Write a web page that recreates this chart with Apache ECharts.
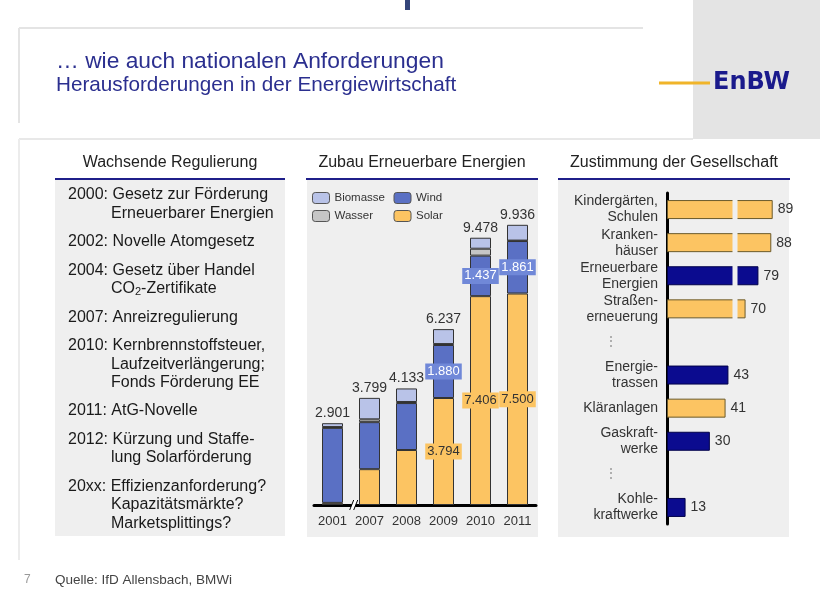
<!DOCTYPE html>
<html><head><meta charset="utf-8">
<script src="https://cdn.jsdelivr.net/npm/echarts@6/dist/echarts.min.js"></script>
<style>html,body{margin:0;padding:0;background:#fff}#c{width:820px;height:596px}</style>
</head><body><div id="c"></div>
<script>
// ---- Zubau Erneuerbare Energien (MW) ----
const years    = ['2001', '2007', '2008', '2009', '2010', '2011'];
const solar    = [75, 1271, 1950, 3794, 7406, 7500];
const wind     = [2659, 1667, 1665, 1880, 1437, 1861];
const wasser   = [30, 100, 38, 33, 245, 15];
const biomasse = [137, 761, 480, 530, 390, 560];
const totals   = [2901, 3799, 4133, 6237, 9478, 9936];
const labelledYears = ['2009', '2010', '2011'];

// ---- Zustimmung der Gesellschaft (%) ----
const approvalCats = ['Kindergärten,\nSchulen', 'Kranken-\nhäuser', 'Erneuerbare\nEnergien', 'Straßen-\nerneuerung', '⋮',
                      'Energie-\ntrassen', 'Kläranlagen', 'Gaskraft-\nwerke', '⋮', 'Kohle-\nkraftwerke'];
const approval     = [89, 88, 79, 70, null, 43, 41, 30, null, 13];
const energyItem   = [false, false, true, false, null, true, false, true, null, true];

// ---- Wachsende Regulierung ----
const regulation = [
  ['2000: Gesetz zur Förderung', 'Erneuerbarer Energien'],
  ['2002: Novelle Atomgesetz'],
  ['2004: Gesetz über Handel', 'CO{s|2}-Zertifikate'],
  ['2007: Anreizregulierung'],
  ['2010: Kernbrennstoffsteuer,', 'Laufzeitverlängerung;', 'Fonds Förderung EE'],
  ['2011: AtG-Novelle'],
  ['2012: Kürzung und Staffe-', 'lung Solarförderung'],
  ['20xx: Effizienzanforderung?', 'Kapazitätsmärkte?', 'Marketsplittings?']
];

const FONT = '"Liberation Sans", Arial, sans-serif';
const NAVY = '#2b2f8f';
const C = { bio: '#b9c3e8', wind: '#5a70c4', wasser: '#c6c6c6', solar: '#fcc462', navyBar: '#0b0b8f', panel: '#efefef' };

function fmt(v) { return String(v).replace(/\B(?=(\d{3})+(?!\d))/g, '.'); }

function txt(x, y, text, size, fill, extra) {
  return {
    type: 'text', x: x, y: y, z: 5, silent: true,
    style: Object.assign({ text: text, fill: fill, font: size + 'px ' + FONT, align: 'left', verticalAlign: 'middle' }, (extra && extra.style) || {})
  };
}
function line(x1, y1, x2, y2, stroke, w) {
  return { type: 'line', z: 1, silent: true, shape: { x1, y1, x2, y2 }, style: { stroke, lineWidth: w } };
}
function rect(x, y, w, h, fill) {
  return { type: 'rect', z: -10, silent: true, shape: { x, y, width: w, height: h }, style: { fill } };
}

const statics = [
  rect(693, 0, 127, 139, '#e4e4e4'),
  rect(405, 0, 5, 10, '#34457a'),
  line(19, 28, 643, 28, '#e4e4e4', 2),
  line(19, 28, 19, 123, '#e4e4e4', 2),
  line(19, 139, 693, 139, '#e8e8e8', 2),
  line(19, 139, 19, 560, '#ececec', 2),
  txt(56, 62, '… wie auch nationalen Anforderungen', 22.8, NAVY),
  txt(56, 85, 'Herausforderungen in der Energiewirtschaft', 20.7, NAVY),
  line(659, 83, 710, 83, '#f0b429', 3),
  txt(713, 83, 'EnBW', 24, '#1a1a8c', { style: { font: 'bold 24px "DejaVu Sans", sans-serif' } }),
  rect(55, 180, 230, 356, C.panel),
  rect(307, 180, 231, 357, C.panel),
  rect(558, 180, 231, 357, C.panel),
  line(55, 179, 285, 179, '#1f1f8a', 2),
  line(306, 179, 538, 179, '#1f1f8a', 2),
  line(558, 179, 790, 179, '#1f1f8a', 2),
  txt(170, 163, 'Wachsende Regulierung', 16, '#222', { style: { align: 'center' } }),
  txt(422, 163, 'Zubau Erneuerbare Energien', 16, '#222', { style: { align: 'center' } }),
  txt(674, 163, 'Zustimmung der Gesellschaft', 16, '#222', { style: { align: 'center' } }),
  txt(24, 580, '7', 12, '#999'),
  txt(55, 580, 'Quelle: IfD Allensbach, BMWi', 13.5, '#444')
];

// regulation text block
(function () {
  let y = 195;
  const L = 18.5, E = 9.9;
  regulation.forEach(function (entry) {
    entry.forEach(function (ln, li) {
      statics.push(txt(li === 0 ? 68 : 111, y, ln, 16, '#1a1a1a',
        { style: { rich: { s: { fontSize: 11, fontFamily: FONT, fill: '#1a1a1a', padding: [7, 0, 0, 0] } } } }));
      if (li < entry.length - 1) y += L;
    });
    y += L + E;
  });
})();

const showLbl = (i) => labelledYears.indexOf(years[i]) >= 0;
const approvalLabel = { show: true, position: 'right', distance: 5, color: '#333', fontSize: 14 };

const option = {
  animation: false,
  textStyle: { fontFamily: FONT },
  grid: [
    { left: 314, width: 222, top: 223, height: 282 },
    { left: 667, width: 110, top: 193, height: 331 }
  ],
  legend: {
    left: 312, top: 192, padding: 0, itemWidth: 17, itemHeight: 11, itemGap: 6, width: 170,
    selectedMode: false,
    data: ['Biomasse', 'Wind', 'Wasser', 'Solar'],
    textStyle: { fontSize: 11.5, color: '#333', width: 53, lineHeight: 12 },
    itemStyle: { borderColor: '#555', borderWidth: 1 }
  },
  xAxis: [
    { type: 'category', gridIndex: 0, data: years,
      axisLine: { lineStyle: { color: '#000', width: 3 } }, axisTick: { show: false },
      axisLabel: { color: '#333', fontSize: 13, margin: 10, interval: 0 } },
    { type: 'value', gridIndex: 1, min: 0, max: 92,
      breaks: [{ start: 46, end: 64, gap: 3 }],
      breakArea: { show: true, itemStyle: { color: C.panel, borderColor: 'rgba(0,0,0,0)', borderWidth: 0, opacity: 1 }, zigzagAmplitude: 0 },
      axisLine: { show: false }, axisTick: { show: false }, axisLabel: { show: false }, splitLine: { show: false } }
  ],
  yAxis: [
    { type: 'value', gridIndex: 0, min: 0, max: 10000, show: false },
    { type: 'category', gridIndex: 1, inverse: true, data: approvalCats,
      axisLine: { lineStyle: { color: '#000', width: 3 } }, axisTick: { show: false },
      axisLabel: { color: '#333', fontSize: 14, lineHeight: 16, margin: 9, interval: 0,
        formatter: (v) => v === '⋮' ? '{d|⋮}' : v,
        rich: { d: { color: '#999', fontSize: 14, padding: [0, 40, 0, 0] } } } }
  ],
  series: [
    { name: 'Solar', type: 'bar', stack: 'z', xAxisIndex: 0, yAxisIndex: 0, barWidth: 21,
      itemStyle: { color: C.solar, borderColor: '#333', borderWidth: 1 },
      data: solar.map((v, i) => ({ value: v, label: { show: showLbl(i) } })),
      label: { position: 'inside', formatter: (p) => fmt(p.value), color: '#333', fontSize: 13,
               backgroundColor: C.solar, padding: [2, 2, 1, 2] } },
    { name: 'Wind', type: 'bar', stack: 'z', xAxisIndex: 0, yAxisIndex: 0, barWidth: 21,
      itemStyle: { color: C.wind, borderColor: '#333', borderWidth: 1 },
      data: wind.map((v, i) => ({ value: v, label: { show: showLbl(i) } })),
      label: { position: 'inside', formatter: (p) => fmt(p.value), color: '#fff', fontSize: 13,
               backgroundColor: '#7088d8', padding: [2, 2, 1, 2] } },
    { name: 'Wasser', type: 'bar', stack: 'z', xAxisIndex: 0, yAxisIndex: 0, barWidth: 21,
      itemStyle: { color: C.wasser, borderColor: '#333', borderWidth: 1 },
      data: wasser },
    { name: 'Biomasse', type: 'bar', stack: 'z', xAxisIndex: 0, yAxisIndex: 0, barWidth: 21,
      itemStyle: { color: C.bio, borderColor: '#333', borderWidth: 1 },
      data: biomasse,
      label: { show: true, position: 'top', distance: 3, color: '#333', fontSize: 14,
               formatter: (p) => fmt(totals[p.dataIndex]) } },
    { name: 'Zustimmung', type: 'bar', xAxisIndex: 1, yAxisIndex: 1, barWidth: 19,
      data: approval.map((v, i) => v == null ? '-' : ({
        value: v,
        itemStyle: { color: energyItem[i] ? C.navyBar : C.solar, borderColor: energyItem[i] ? '#00004a' : '#6b5a2b' }
      })),
      itemStyle: { borderWidth: 1 } },
    { name: 'ZustimmungLabel', type: 'bar', xAxisIndex: 1, yAxisIndex: 1, barWidth: 19, barGap: '-100%',
      z: 300, silent: true,
      data: approval.map((v) => v == null ? '-' : v),
      itemStyle: { color: 'rgba(0,0,0,0)', borderWidth: 0 },
      label: approvalLabel }
  ],
  graphic: { elements: statics }
};

const chart = echarts.init(document.getElementById('c'));
chart.setOption(option);

// axis break mark between 2001 and 2007 on the category axis
const p0 = chart.convertToPixel({ xAxisIndex: 0 }, years[0]);
const p1 = chart.convertToPixel({ xAxisIndex: 0 }, years[1]);
const by = chart.convertToPixel({ yAxisIndex: 0 }, 0);
const bx = p0 + 0.6 * (p1 - p0);
const mark = [
  { type: 'polygon', z: 20, silent: true, shape: { points: [[bx - 5, by + 5], [bx - 1, by - 5], [bx + 3, by - 5], [bx - 1, by + 5]] }, style: { fill: '#fff' } },
  { type: 'line', z: 21, silent: true, shape: { x1: bx - 5, y1: by + 5, x2: bx - 1, y2: by - 5 }, style: { stroke: '#000', lineWidth: 1 } },
  { type: 'line', z: 21, silent: true, shape: { x1: bx - 1, y1: by + 5, x2: bx + 3, y2: by - 5 }, style: { stroke: '#000', lineWidth: 1 } }
];
chart.setOption({ graphic: { elements: statics.concat(mark) } });
</script>
</body></html>
